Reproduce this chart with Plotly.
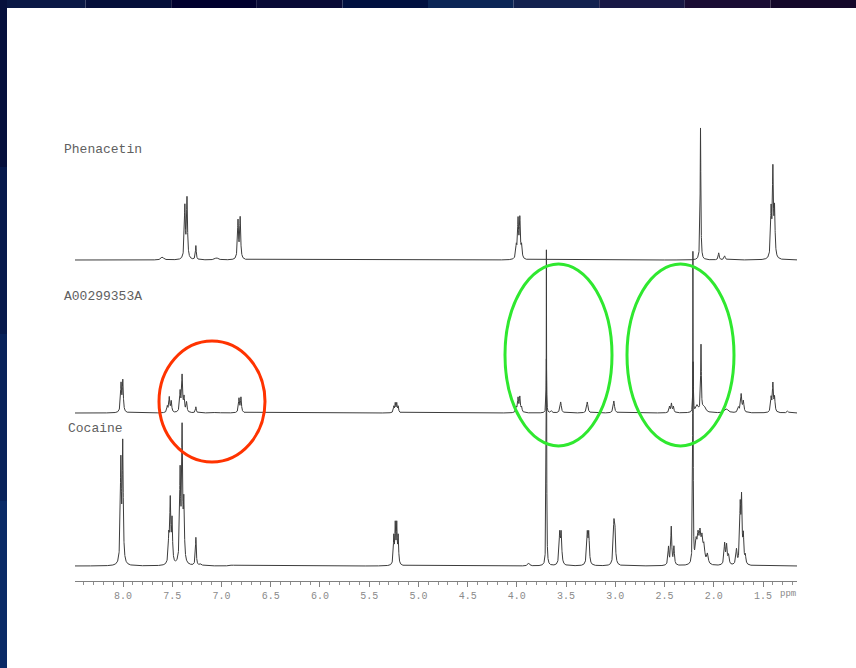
import numpy as np
import plotly.graph_objects as go

# ---------------- data: peak lists ----------------
# chemical shift (ppm), peak height (arbitrary units), half width (ppm)
phen_ppm = [7.60, 7.372, 7.350, 7.26, 7.05, 6.832, 6.810, 4.006, 3.988, 3.970, 3.952, 2.135, 1.950, 1.890, 1.418, 1.400, 1.383]
phen_int = [3, 52, 60, 14, 2, 38, 41, 12, 38, 39, 12, 132, 7, 4, 46, 86, 46]
phen_w   = [0.015, 0.006, 0.006, 0.005, 0.02, 0.006, 0.006, 0.006, 0.006, 0.006, 0.006, 0.004, 0.006, 0.008, 0.006, 0.006, 0.006]

samp_ppm = [8.020, 8.002, 7.550, 7.530, 7.510, 7.420, 7.400, 7.380, 7.355, 7.26, 7.05, 6.822, 6.802,
            5.250, 5.235, 5.220, 5.205, 4.006, 3.988, 3.970, 3.952, 3.700, 3.650, 3.555, 3.285, 3.015,
            2.450, 2.430, 2.410, 2.210, 2.170, 2.130, 2.100, 1.870, 1.750, 1.722, 1.700,
            1.418, 1.400, 1.383, 1.250]
samp_int = [28, 31, 6, 15, 11, 20, 36, 14, 10, 6, 1, 14, 15,
            6, 9, 9, 6, 5, 14, 15, 5, 54, 2, 11, 11, 12,
            6, 9, 6, 50, 7, 66, 6, 4, 5, 18, 11,
            14, 28, 14, 2]
samp_w   = [0.006, 0.006, 0.006, 0.006, 0.006, 0.006, 0.006, 0.006, 0.006, 0.005, 0.02, 0.006, 0.006,
            0.005, 0.005, 0.005, 0.005, 0.006, 0.006, 0.006, 0.006, 0.003, 0.008, 0.008, 0.008, 0.008,
            0.006, 0.006, 0.006, 0.003, 0.015, 0.004, 0.02, 0.02, 0.008, 0.007, 0.007,
            0.006, 0.006, 0.006, 0.008]

coc_ppm = [8.022, 8.003, 7.535, 7.520, 7.502, 7.420, 7.400, 7.382, 7.26, 7.21, 6.89,
           5.250, 5.235, 5.220, 5.205, 3.880, 3.700, 3.565, 3.550, 3.285, 3.270, 3.015, 3.005,
           2.460, 2.432, 2.405, 2.212, 2.180, 2.160, 2.140, 2.120, 2.100, 2.065,
           1.890, 1.870, 1.850, 1.770, 1.732, 1.718, 1.700, 1.680]
coc_int = [100, 118, 25, 62, 42, 88, 130, 56, 28, 2, 1,
           27, 38, 38, 27, 3, 316, 30, 30, 30, 30, 36, 32,
           18, 38, 18, 311, 20, 24, 26, 22, 16, 10,
           21, 19, 9, 15, 55, 62, 26, 8]
coc_w = [0.006, 0.006, 0.006, 0.006, 0.006, 0.006, 0.006, 0.006, 0.005, 0.01, 0.02,
         0.005, 0.005, 0.005, 0.005, 0.01, 0.0025, 0.007, 0.007, 0.007, 0.007, 0.007, 0.007,
         0.006, 0.006, 0.006, 0.0025, 0.01, 0.01, 0.01, 0.01, 0.01, 0.01,
         0.007, 0.007, 0.007, 0.007, 0.006, 0.006, 0.006, 0.006]

names = ["Phenacetin", "A00299353A", "Cocaine"]
tick_vals = [8.0, 7.5, 7.0, 6.5, 6.0, 5.5, 5.0, 4.5, 4.0, 3.5, 3.0, 2.5, 2.0, 1.5]
tick_text = ["8.0", "7.5", "7.0", "6.5", "6.0", "5.5", "5.0", "4.5", "4.0", "3.5", "3.0", "2.5", "2.0", "1.5"]

# ---------------- layout constants ----------------
W, H = 856, 668
PPM_LEFT, PPM_RIGHT = 8.4875, 1.155
offsets = [408, 255, 102]          # vertical stacking of the three traces
label_pos = [(62, 149), (62, 297), (66, 428)]   # pixel positions of trace labels


def spectrum(x, ppm, inten, w):
    y = np.zeros_like(x)
    for p, h, g in zip(ppm, inten, w):
        y += h / (1.0 + ((x - p) / g) ** 2)
    return y


x = np.unique(np.concatenate([np.arange(PPM_RIGHT, PPM_LEFT, 0.0004), phen_ppm, samp_ppm, coc_ppm]))
peaks = [(phen_ppm, phen_int, phen_w), (samp_ppm, samp_int, samp_w), (coc_ppm, coc_int, coc_w)]

fig = go.Figure()
for (pp, ii, ww), off, nm in zip(peaks, offsets, names):
    fig.add_trace(go.Scatter(x=x, y=off + spectrum(x, pp, ii, ww), mode="lines",
                             line=dict(color="#3c3c3c", width=1), name=nm,
                             showlegend=False, hoverinfo="skip"))

shapes = []
# dark blue frame (top and left bands)
top_cols = ["#0a1845", "#050f3a", "#00002e", "#080a36", "#001040", "#0b2656", "#13224f", "#181845", "#1a0c34", "#14082a"]
n = len(top_cols)
for i, c in enumerate(top_cols):
    shapes.append(dict(type="rect", xref="paper", yref="paper", x0=i / n, x1=(i + 1) / n,
                       y0=1 - 8 / H, y1=1, fillcolor=c, line=dict(width=0), layer="above"))
left_cols = ["#06103c", "#071a4c", "#08225a", "#0a2a66"]
m = len(left_cols)
for i, c in enumerate(left_cols):
    shapes.append(dict(type="rect", xref="paper", yref="paper", x0=0, x1=7 / W,
                       y0=1 - (i + 1) / m, y1=1 - i / m, fillcolor=c, line=dict(width=0), layer="above"))

# highlight ellipses (pixel boxes)
ellipses = [((159, 341, 265, 462), "#ff3300"), ((505, 264, 612, 446), "#2fe82f"), ((627, 264, 734, 446), "#2fe82f")]
for (x0, y0, x1, y1), c in ellipses:
    shapes.append(dict(type="circle", xref="paper", yref="paper", x0=x0 / W, x1=x1 / W,
                       y0=1 - y1 / H, y1=1 - y0 / H, line=dict(color=c, width=3)))

annotations = []
for nm, (px, py) in zip(names, label_pos):
    annotations.append(dict(text=nm, xref="paper", yref="paper", x=px / W, y=1 - py / H,
                            xanchor="left", yanchor="middle", showarrow=False,
                            font=dict(family="Liberation Mono", size=13, color="#606060")))
annotations.append(dict(text="ppm", xref="paper", yref="paper", x=778 / W, y=1 - 594 / H,
                        xanchor="left", yanchor="middle", showarrow=False,
                        font=dict(family="Liberation Mono", size=9, color="#8a8a8a")))

fig.update_layout(
    width=W, height=H,
    margin=dict(l=0, r=0, t=0, b=0),
    paper_bgcolor="white", plot_bgcolor="white",
    shapes=shapes, annotations=annotations,
    xaxis=dict(domain=[75 / W, 797 / W], range=[PPM_LEFT, PPM_RIGHT], anchor="free",
               position=(H - 581) / H, showgrid=False, zeroline=False,
               showline=True, linecolor="#808080", linewidth=1,
               ticks="outside", ticklen=5, tickwidth=1, tickcolor="#808080",
               tickmode="array", tickvals=tick_vals, ticktext=tick_text,
               tickfont=dict(family="Liberation Mono", size=10, color="#8a8a8a"),
               minor=dict(ticks="outside", ticklen=3, dtick=0.1, tick0=0, tickcolor="#909090", showgrid=False)),
    yaxis=dict(domain=[0, 1], range=[0, H], visible=False, showgrid=False, zeroline=False),
)

fig.write_html("out.html", config={"displayModeBar": False},
               post_script="document.body.style.margin='0';document.body.style.overflow='hidden';")
